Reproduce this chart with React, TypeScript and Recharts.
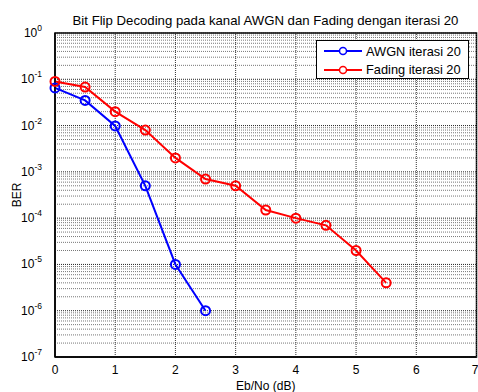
import { LineChart, Line, XAxis, YAxis, ReferenceLine, ReferenceArea } from 'recharts'

const ebno = [0, 0.5, 1, 1.5, 2, 2.5, 3, 3.5, 4, 4.5, 5, 5.5]
const awgn = [0.065, 0.035, 0.0098, 0.0005, 0.00001, 0.000001]
const fading = [0.09, 0.068, 0.02, 0.008, 0.002, 0.0007, 0.0005, 0.00015, 0.0001, 0.00007, 0.00002, 0.000004]

const xTicks = [0, 1, 2, 3, 4, 5, 6, 7]
const decades = [-7, -6, -5, -4, -3, -2, -1, 0]
const minorSteps = [2, 3, 4, 5, 6, 7, 8, 9]

const data = ebno.map((x, i) => ({
  x,
  awgn: i < awgn.length ? awgn[i] : null,
  fading: fading[i],
}))

const yTicks = decades.map((d) => Math.pow(10, d))
const minorValues: number[] = []
decades.slice(0, -1).forEach((d) => {
  minorSteps.forEach((m) => minorValues.push(m * Math.pow(10, d)))
})

const FONT = '"Liberation Sans", Arial, sans-serif'

function PowerTick(props: any) {
  const { x, y, payload } = props
  const exp = Math.round(Math.log10(payload.value))
  return (
    <text x={x - 5} y={y + 4} textAnchor="end" fontSize={12} fill="#000" fontFamily={FONT}>
      <tspan>10</tspan>
      <tspan dy={-6} fontSize={8.5}>{String(exp)}</tspan>
    </text>
  )
}

function circle(color: string) {
  return { r: 4.5, stroke: color, strokeWidth: 2, fill: 'none' }
}

export default function App() {
  return (
    <div style={{ position: 'absolute', left: 0, top: 0, width: 478, height: 392, background: '#fff', fontFamily: FONT }}>
      <div style={{ position: 'absolute', left: 55, width: 421, top: 13, textAlign: 'center', fontSize: 13.2, color: '#000', whiteSpace: 'nowrap' }}>
        Bit Flip Decoding pada kanal AWGN dan Fading dengan iterasi 20
      </div>
      <LineChart width={478} height={392} data={data} margin={{ top: 33, right: 1.5, bottom: 0, left: 0 }}>
        <XAxis
          dataKey="x"
          type="number"
          domain={[0, 7]}
          ticks={xTicks}
          height={35}
          axisLine={{ stroke: '#000', strokeWidth: 1.5 }}
          tickLine={false}
          tick={{ fill: '#000', fontSize: 12, fontFamily: FONT }}
          label={{ value: 'Eb/No (dB)', position: 'insideBottom', offset: 2, fill: '#000', fontSize: 12, fontFamily: FONT }}
        />
        <YAxis
          scale="log"
          type="number"
          domain={[1e-7, 1]}
          allowDataOverflow
          ticks={yTicks}
          width={55}
          axisLine={{ stroke: '#000', strokeWidth: 1.5 }}
          tickLine={false}
          tick={<PowerTick />}
          label={{ value: 'BER', angle: -90, position: 'insideLeft', offset: 17, fill: '#000', fontSize: 12, fontFamily: FONT, style: { textAnchor: 'middle' } }}
        />
        {minorValues.map((v) => (
          <ReferenceLine key={'m' + v} y={v} stroke="#777" strokeDasharray="1 1" strokeWidth={1} />
        ))}
        {yTicks.map((v) => (
          <ReferenceLine key={'d' + v} y={v} stroke="#222" strokeDasharray="1 1" strokeWidth={1} />
        ))}
        {xTicks.map((v) => (
          <ReferenceLine key={'x' + v} x={v} stroke="#333" strokeDasharray="1 1" strokeWidth={1} />
        ))}
        <ReferenceArea x1={0} x2={7} y1={1e-7} y2={1} fill="none" stroke="#000" strokeWidth={1.5} />
        <Line
          dataKey="awgn"
          stroke="#0000ff"
          strokeWidth={2}
          dot={circle('#0000ff')}
          activeDot={false}
          isAnimationActive={false}
          connectNulls={false}
        />
        <Line
          dataKey="fading"
          stroke="#ff0000"
          strokeWidth={2}
          dot={circle('#ff0000')}
          activeDot={false}
          isAnimationActive={false}
        />
      </LineChart>
      <div
        style={{
          position: 'absolute',
          left: 316,
          top: 40,
          width: 153,
          height: 39,
          boxSizing: 'border-box',
          border: '1px solid #000',
          background: '#fff',
          fontSize: 12.8,
          color: '#000',
          paddingTop: 1,
          whiteSpace: 'nowrap',
        }}
      >
        {[
          { name: 'AWGN iterasi 20', color: '#0000ff' },
          { name: 'Fading iterasi 20', color: '#ff0000' },
        ].map((s) => (
          <div key={s.name} style={{ display: 'flex', alignItems: 'center', height: 18.5 }}>
            <svg width={48} height={12} style={{ marginLeft: 7, flexShrink: 0 }}>
              <line x1={0} y1={6} x2={38} y2={6} stroke={s.color} strokeWidth={2} />
              <circle cx={19} cy={6} r={3.5} stroke={s.color} strokeWidth={1.5} fill="#fff" />
            </svg>
            <span style={{ marginLeft: -6 }}>{s.name}</span>
          </div>
        ))}
      </div>
    </div>
  )
}
